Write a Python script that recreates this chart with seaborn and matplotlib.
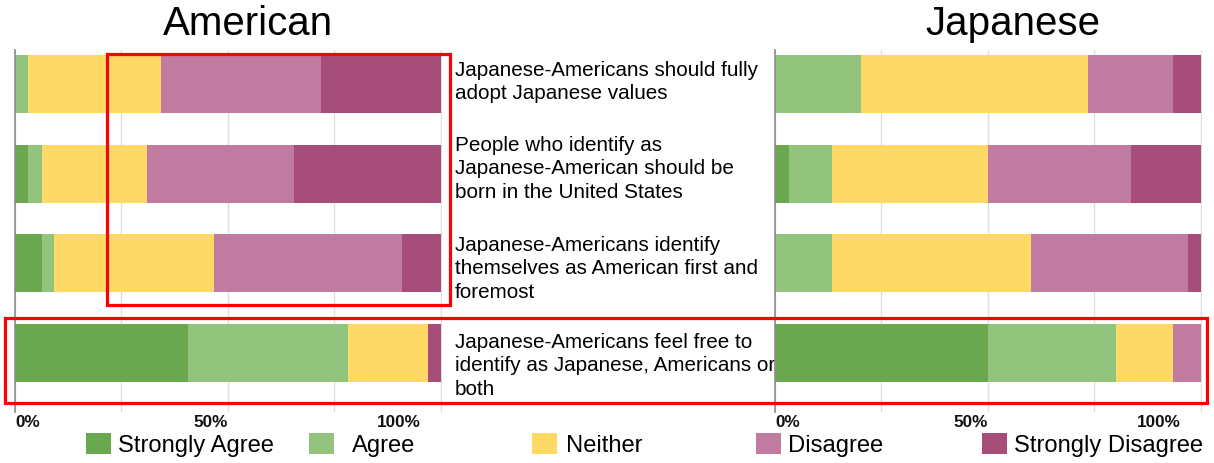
import matplotlib
matplotlib.use("Agg")
import matplotlib.pyplot as plt
from matplotlib.patches import Rectangle, Patch
from matplotlib.transforms import blended_transform_factory
import seaborn as sns

# Survey statements (one bar per statement)
statements = [
    "Japanese-Americans should fully\nadopt Japanese values",
    "People who identify as\nJapanese-American should be\nborn in the United States",
    "Japanese-Americans identify\nthemselves as American first and\nforemost",
    "Japanese-Americans feel free to\nidentify as Japanese, Americans or\nboth",
]

responses = ["Strongly Agree", "Agree", "Neither", "Disagree", "Strongly Disagree"]
colors = ["#6aa84f", "#93c47d", "#ffd966", "#c27ba0", "#a64d79"]

# Share of respondents (%) per statement, American respondents
us_strongly_agree = [0.0, 3.1, 6.3, 40.6]
us_agree = [3.1, 3.2, 2.9, 37.6]
us_neither = [31.3, 24.8, 37.6, 18.8]
us_disagree = [37.5, 34.5, 44.0, 0.0]
us_strongly_disagree = [28.1, 34.4, 9.2, 3.0]

# Share of respondents (%) per statement, Japanese respondents
jp_strongly_agree = [0.0, 3.3, 0.0, 50.0]
jp_agree = [20.1, 10.1, 13.4, 30.1]
jp_neither = [53.4, 36.7, 46.7, 13.5]
jp_disagree = [20.1, 33.5, 36.8, 6.4]
jp_strongly_disagree = [6.4, 16.4, 3.1, 0.0]

x_ticks = [0, 25, 50, 75, 100]
tick_labels = ["0%", "50%", "100%"]

sns.set_style("white")
plt.rcParams["font.family"] = ["Liberation Sans", "DejaVu Sans"]
plt.rcParams["text.color"] = "black"

W, H = 1214, 463
fig = plt.figure(figsize=(W / 100, H / 100), dpi=100)


def fx(px):
    return px / W


def fy(py):
    return 1 - py / H


ax_bottom_px, ax_top_px = 412, 50
ax_h = (ax_bottom_px - ax_top_px) / H
ax_us = fig.add_axes([fx(15), fy(ax_bottom_px), fx(427), ax_h])
ax_jp = fig.add_axes([fx(775), fy(ax_bottom_px), fx(427), ax_h])


def stacked(ax, series):
    # cumulative totals, drawn from the widest to the narrowest so each
    # segment shows through on top of the previous one
    cums = []
    run = [0.0] * len(statements)
    for s in series:
        run = [a + b for a, b in zip(run, s)]
        cums.append(run)
    for cum, col in reversed(list(zip(cums, colors))):
        sns.barplot(x=cum, y=statements, order=statements, orient="h",
                    color=col, saturation=1, width=0.65, edgecolor="none",
                    linewidth=0, ax=ax)
    ax.set_xlim(0, 100.3)
    ax.set_ylim(3.658, -0.379)
    ax.set_xticks(x_ticks)
    ax.set_xticklabels([])
    ax.set_yticks([])
    ax.set_xlabel("")
    ax.set_ylabel("")
    ax.tick_params(length=0)
    ax.grid(axis="x", color="#dedede", linewidth=1)
    ax.set_axisbelow(True)
    for side in ["top", "right", "bottom"]:
        ax.spines[side].set_visible(False)
    ax.spines["left"].set_color("#8c8c8c")
    ax.spines["left"].set_linewidth(1.2)
    # percentage labels under the axis
    tr = ax.get_xaxis_transform()
    y_lab = -(427 - ax_bottom_px) / (ax_bottom_px - ax_top_px)
    for xv, lab, ha in zip([0, 50, 95.3], tick_labels, ["left", "right", "right"]):
        ax.text(xv, y_lab, lab, transform=tr, ha=ha, va="baseline",
                fontsize=12.3, fontweight="bold", color="#111111")


stacked(ax_us, [us_strongly_agree, us_agree, us_neither, us_disagree, us_strongly_disagree])
stacked(ax_jp, [jp_strongly_agree, jp_agree, jp_neither, jp_disagree, jp_strongly_disagree])

# statement texts between the two panels
text_tr = blended_transform_factory(ax_us.transAxes, ax_us.transData)
text_y = [-0.022, 0.948, 2.063, 3.145]
for ty, s in zip(text_y, statements):
    ax_us.text((455 - 15) / 427, ty, s, transform=text_tr, ha="left", va="center",
               fontsize=14.9, color="black", linespacing=1.3, clip_on=False)

# panel titles
fig.text(fx(248), fy(35), "American", ha="center", va="baseline", fontsize=29)
fig.text(fx(1013), fy(35), "Japanese", ha="center", va="baseline", fontsize=29)

# highlight boxes
for x0, y0, x1, y1 in [(107, 54, 450, 305), (5, 318, 1207, 403)]:
    fig.patches.append(Rectangle((fx(x0), fy(y1)), fx(x1 - x0), (y1 - y0) / H,
                                 transform=fig.transFigure, fill=False,
                                 edgecolor="#ff0000", linewidth=2.3, zorder=10))

# legend, one entry per response
leg_x = [86, 309, 532, 756, 982]
leg_pad = [0.3, 0.75, 0.4, 0.3, 0.28]
for lx, pad, lab, col in zip(leg_x, leg_pad, responses, colors):
    fig.legend(handles=[Patch(facecolor=col, edgecolor="none", label=lab)],
               loc="center left", bbox_to_anchor=(fx(lx), fy(445)),
               frameon=False, fontsize=17.1, borderpad=0, borderaxespad=0,
               handlelength=1.05, handleheight=1.0, handletextpad=pad,
               labelcolor="black")

fig.savefig("out.png", dpi=100)
